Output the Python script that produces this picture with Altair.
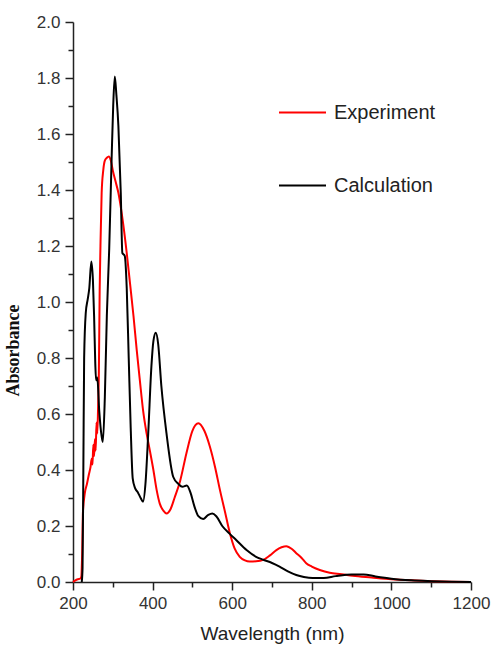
import altair as alt
import pandas as pd

# Experiment (red) spectrum
exp_nm = [200, 205, 212, 218, 221, 223, 225, 230, 235, 240, 244, 247, 249, 251, 253,
          255, 257, 259, 261, 263, 265, 267, 269, 272, 276, 280, 285, 290, 295, 300,
          307, 314, 320, 326, 335, 343, 352, 360, 368, 376, 385, 393, 402, 410, 418,
          427, 435, 445, 455, 469, 485, 500, 515, 530, 544, 557, 569, 582, 594, 606,
          619, 632, 644, 660, 678, 695, 711, 724, 736, 750, 761, 775, 786, 800, 820,
          845, 875, 903, 950, 1000, 1050, 1100, 1150, 1200]
exp_abs = [0.0, 0.005, 0.01, 0.012, 0.02, 0.1, 0.25, 0.32, 0.35, 0.385, 0.41, 0.44, 0.42,
           0.49, 0.45, 0.51, 0.47, 0.57, 0.53, 0.62, 0.75, 1.04, 1.2, 1.39, 1.47, 1.505,
           1.515, 1.52, 1.505, 1.47, 1.43, 1.39, 1.34, 1.28, 1.175, 1.07, 0.95, 0.83,
           0.72, 0.614, 0.53, 0.47, 0.4, 0.33, 0.28, 0.255, 0.245, 0.26, 0.3, 0.36,
           0.46, 0.54, 0.567, 0.54, 0.483, 0.41, 0.33, 0.25, 0.175, 0.12, 0.09, 0.077,
           0.073, 0.074, 0.079, 0.095, 0.114, 0.124, 0.128, 0.118, 0.103, 0.085, 0.067,
           0.055, 0.043, 0.033, 0.028, 0.022, 0.016, 0.01, 0.006, 0.003, 0.001, 0.0]

# Calculation (black) spectrum
calc_nm = [222, 224, 226, 228, 232, 237, 241, 246, 250, 253, 256, 258, 261, 266, 272,
           275, 280, 285, 291, 297, 301, 305, 309, 314, 320, 324, 330, 335, 340, 345,
           350, 356, 363, 370, 376, 382, 389, 397, 402, 408, 414, 422, 435, 452, 465,
           475, 486, 495, 505, 515, 527, 540, 550, 560, 575, 594, 610, 636, 660, 677,
           700, 719, 740, 761, 780, 802, 830, 860, 900, 930, 960, 1000, 1050, 1100,
           1150, 1200]
calc_abs = [0.0, 0.05, 0.4, 0.8, 0.96, 1.01, 1.05, 1.145, 1.08, 0.95, 0.78, 0.72, 0.73,
            0.61, 0.52, 0.5, 0.66, 0.95, 1.19, 1.51, 1.7, 1.805, 1.74, 1.63, 1.39, 1.175,
            1.165, 1.05, 0.8, 0.55, 0.37, 0.335, 0.32, 0.3, 0.287, 0.35, 0.53, 0.77,
            0.86, 0.89, 0.85, 0.7, 0.53, 0.375, 0.35, 0.34, 0.345, 0.32, 0.27, 0.235,
            0.225, 0.24, 0.245, 0.235, 0.2, 0.172, 0.15, 0.114, 0.09, 0.08, 0.068, 0.055,
            0.038, 0.025, 0.018, 0.014, 0.014, 0.021, 0.027, 0.027, 0.02, 0.012, 0.006,
            0.003, 0.001, 0.0]

series_names = ["Experiment", "Calculation"]
series_colors = ["#ff0000", "#000000"]
x_ticks = list(range(200, 1201, 100))
y_ticks = [round(i * 0.1, 1) for i in range(21)]

df = pd.concat([
    pd.DataFrame({"nm": exp_nm, "abs": exp_abs, "series": series_names[0],
                  "idx": range(len(exp_nm))}),
    pd.DataFrame({"nm": calc_nm, "abs": calc_abs, "series": series_names[1],
                  "idx": range(len(calc_nm))}),
])

FONT = "Liberation Sans"

x_axis = alt.Axis(
    values=x_ticks,
    labelExpr="datum.value % 200 == 0 ? format(datum.value, 'd') : ''",
    tickSize={"condition": {"test": "datum.value % 200 == 0", "value": 8}, "value": 5},
    grid=False, domainColor="#222222", domainWidth=1.5, tickColor="#222222",
    tickWidth=1.5, labelFont=FONT, labelFontSize=17, labelColor="#333333",
    labelPadding=5, labelOverlap=False, labelFlush=False,
    title="Wavelength (nm)", titleFont=FONT, titleFontSize=19, titleFontWeight="normal",
    titleColor="#222222", titleY=51, titleBaseline="middle",
)

y_axis = alt.Axis(
    values=y_ticks,
    labelExpr="round(datum.value * 10) % 2 == 0 ? format(datum.value, '.1f') : ''",
    tickSize={"condition": {"test": "round(datum.value * 10) % 2 == 0", "value": 8}, "value": 5},
    grid=False, domainColor="#222222", domainWidth=1.5, tickColor="#222222",
    tickWidth=1.5, labelFont=FONT, labelFontSize=17, labelColor="#333333",
    labelPadding=5, labelOverlap=False, labelFlush=False,
    title="Absorbance", titleFont="Liberation Serif", titleFontSize=18,
    titleFontWeight="bold", titleColor="#111111", titleAngle=270,
    titleX=-60, titleY=328, titleAlign="center", titleBaseline="middle",
)

chart = alt.Chart(df).mark_line(strokeWidth=2, interpolate="monotone").encode(
    x=alt.X("nm:Q", scale=alt.Scale(domain=[200, 1200], nice=False, zero=False), axis=x_axis),
    y=alt.Y("abs:Q", scale=alt.Scale(domain=[0, 2.0], nice=False), axis=y_axis),
    color=alt.Color(
        "series:N",
        scale=alt.Scale(domain=series_names, range=series_colors),
        legend=alt.Legend(
            orient="none", legendX=205, legendY=66, title=None,
            symbolType="stroke", symbolSize=2209, symbolStrokeWidth=2,
            labelFont=FONT, labelFontSize=20, labelColor="#222222",
            rowPadding=38, labelOffset=7,
        ),
    ),
    order=alt.Order("idx:Q"),
).properties(
    width=398, height=560,
    autosize=alt.AutoSizeParams(type="none"),
    padding={"left": 73, "top": 22, "right": 20, "bottom": 64},
    background="white",
).configure_view(stroke=None)

chart.save("out.html", embed_options={"renderer": "svg", "actions": False})
